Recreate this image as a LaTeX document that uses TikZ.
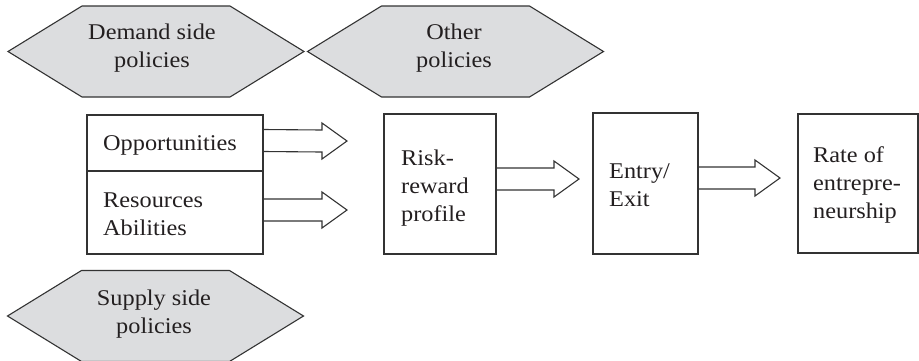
\documentclass[tikz,border=0pt]{standalone}
\usepackage{fontspec}
\setmainfont[FakeStretch=1.08]{Liberation Serif}
\usetikzlibrary{calc}
\definecolor{inkline}{HTML}{333333}
\definecolor{inktext}{HTML}{231F20}
\definecolor{policyfill}{HTML}{DCDDDF}
% hexagonal policy badge centred on a named coordinate
\newcommand\policyhex[1]{%
  \draw[hexbadge] ($(#1)+(-148,0)$) -- ($(#1)+(-74,-45.5)$) -- ($(#1)+(74,-45.5)$)
    -- ($(#1)+(148,0)$) -- ($(#1)+(74,45.5)$) -- ($(#1)+(-74,45.5)$) -- cycle;}
% open block arrow from a start point to a tip point
\newcommand\blockarrow[2]{%
  \draw[blockarrow] ($(#1)+(0,-11)$) -- ($(#2)+(-25,-11)$) -- ($(#2)+(-25,-18)$)
    -- (#2) -- ($(#2)+(-25,18)$) -- ($(#2)+(-25,11)$) -- ($(#1)+(0,11)$);}
\begin{document}
\begin{tikzpicture}[x=1pt,y=-1pt,
  hexbadge/.style={draw=inkline,fill=policyfill,line width=1.1pt,line join=miter},
  blockarrow/.style={draw=inkline,line width=1.1pt,line join=miter},
  box/.style={draw=inkline,line width=1.1pt,inner sep=0pt,rectangle},
  lbl/.style={inner sep=0pt,text=inktext,font=\fontsize{22.5}{28}\selectfont},
  lblc/.style={lbl,align=center,anchor=base},
  lbll/.style={lbl,align=left,anchor=base west}]
\useasboundingbox (0,0) rectangle (919,360);

% policy badges
\coordinate (demc) at (156,51.5);
\coordinate (othc) at (455.5,51.5);
\coordinate (supc) at (155.5,316);
\policyhex{demc}
\policyhex{othc}
\policyhex{supc}
% multi-line labels are placed by the baseline of their last line
\node[lblc] (demtxt) at (152,67) {Demand side\\policies};
\node[lblc] (othtxt) at (454,67) {Other\\policies};
\node[lblc] (suptxt) at (154,333) {Supply side\\policies};

% boxes
\node[box,minimum width=176,minimum height=56] (opp) at (175,143) {};
\node[box,minimum width=176,minimum height=83] (res) at (175,212.5) {};
\node[box,minimum width=112,minimum height=140] (risk) at (440,184) {};
\node[box,minimum width=105,minimum height=141] (entry) at (645.5,183.5) {};
\node[box,minimum width=120,minimum height=139] (rate) at (858,183.5) {};

\node[lbll] (opptxt) at (103,150) {Opportunities};
\node[lbll] (restxt) at (103,235) {Resources\\Abilities};
\node[lbll] (risktxt) at (401,221) {Risk-\\reward\\profile};
\node[lbll] (entrytxt) at (609,206) {Entry/\\Exit};
\node[lbll] (ratetxt) at (813,218) {Rate of\\entrepre-\\neurship};

% arrow tips
\coordinate (tipa) at (347,141);
\coordinate (tipb) at (347,210);
\coordinate (tipc) at (579,179);
\coordinate (tipd) at (780,178);

\blockarrow{$(opp.east)+(0,-2.5)$}{tipa}
\blockarrow{$(res.east)+(0,-2.5)$}{tipb}
\blockarrow{$(risk.east)+(0,-5)$}{tipc}
\blockarrow{$(entry.east)+(0,-5.5)$}{tipd}
\end{tikzpicture}
\end{document}
